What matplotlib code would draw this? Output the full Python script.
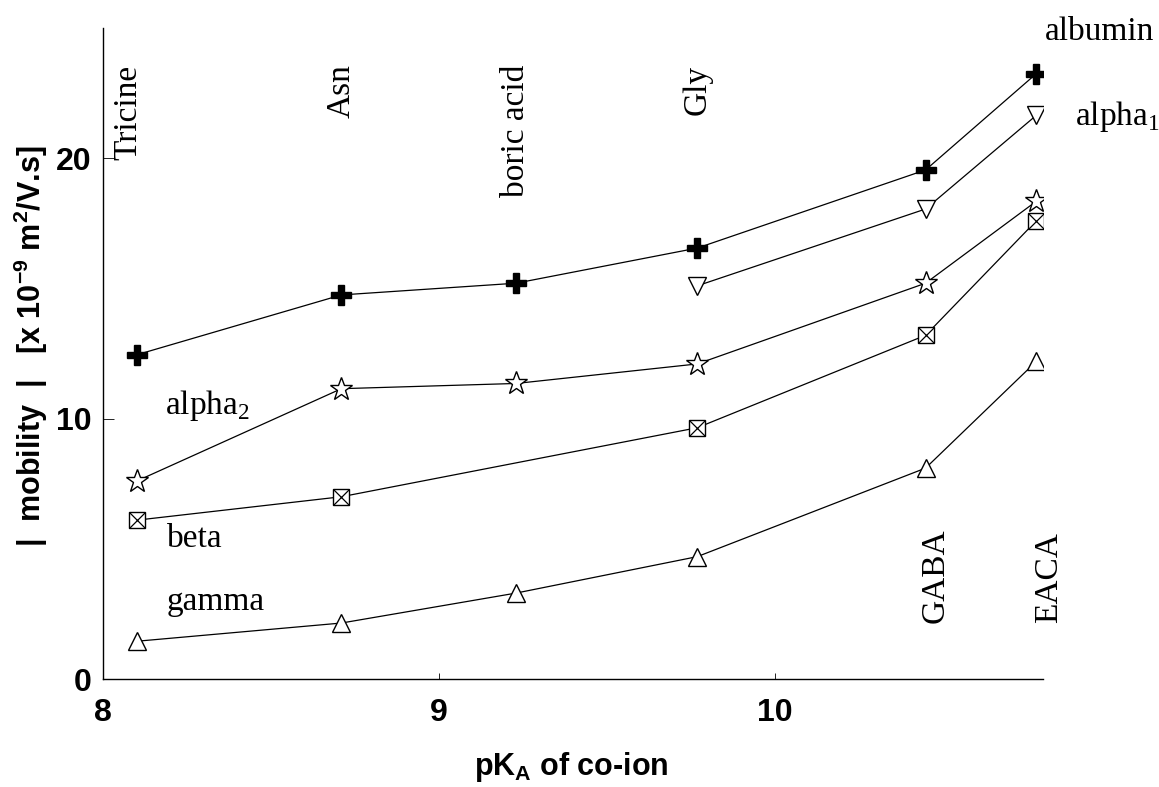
import numpy as np
import matplotlib
matplotlib.use("Agg")
import matplotlib.pyplot as plt

plt.rcParams['font.family'] = ['Liberation Sans', 'DejaVu Sans']
plt.rcParams['mathtext.fontset'] = 'custom'
plt.rcParams['mathtext.rm'] = 'Liberation Serif'
plt.rcParams['mathtext.bf'] = 'Liberation Sans:bold'
plt.rcParams['mathtext.default'] = 'bf'

################ DATA
# pKa of the co-ions
co_ions = ['Tricine', 'Asn', 'boric acid', 'Gly', 'GABA', 'EACA']
pka = [8.10, 8.71, 9.23, 9.77, 10.45, 10.78]

albumin = [12.45, 14.75, 15.2, 16.55, 19.55, 23.25]
alpha1 = [np.nan, np.nan, np.nan, 15.1, 18.05, 21.65]
alpha2 = [7.6, 11.15, 11.35, 12.1, 15.2, 18.35]
beta = [6.1, 7.0, np.nan, 9.65, 13.2, 17.6]
gamma = [1.45, 2.15, 3.3, 4.7, 8.1, 12.2]

################ FIGURE
fig = plt.figure(figsize=(11.59, 7.87), dpi=100)
ax = fig.add_axes([0.0889, 0.1372, 0.8111, 0.8272])

lw = 0.9
ax.plot(pka, albumin, color='black', lw=lw, marker='P', ms=15, mfc='black', mec='black')
ax.plot(pka, alpha1, color='black', lw=lw, marker='v', ms=13, mfc='white', mec='black', mew=1)
ax.plot(pka, alpha2, color='black', lw=lw, marker='*', ms=17, mfc='white', mec='black', mew=1)
# beta has no boric acid point, line goes straight from Asn to Gly
bx = [x for x, v in zip(pka, beta) if not np.isnan(v)]
by = [v for v in beta if not np.isnan(v)]
ax.plot(bx, by, color='black', lw=lw, marker='s', ms=12, mfc='white', mec='black', mew=1)
ax.plot(bx, by, ls='none', marker='x', ms=11, mec='black', mew=0.9)
ax.plot(pka, gamma, color='black', lw=lw, marker='^', ms=13, mfc='white', mec='black', mew=1)

ax.set_xlim(8, 10.8)
ax.set_ylim(0, 25)
ax.spines['top'].set_visible(False)
ax.spines['right'].set_visible(False)
ax.spines['left'].set_linewidth(1)
ax.spines['bottom'].set_linewidth(1)

ax.set_xticks([8, 9, 10])
ax.set_yticks([0, 10, 20])
ax.tick_params(axis='x', direction='in', length=4, width=0.6, pad=14, labelsize=23)
ax.tick_params(axis='y', direction='in', length=8, width=0.6, pad=8, labelsize=23)
for lab in ax.get_xticklabels() + ax.get_yticklabels():
    lab.set_fontweight('bold')

# co-ion names
serif = 'Liberation Serif'
for name, x in zip(co_ions[:4], [8.075, 8.709, 9.228, 9.77]):
    ax.text(x, 23.6, name, rotation=90, ha='center', va='top', fontsize=24, family=serif)
for name, x in zip(co_ions[4:], [10.48, 10.817]):
    ax.text(x, 2.15, name, rotation=90, ha='center', va='bottom', fontsize=24, family=serif)

# series names
ax.text(10.806, 24.85, 'albumin', ha='left', va='center', fontsize=24, family=serif)
ax.text(10.895, 21.6, r'alpha$_\mathrm{1}$', ha='left', va='center', fontsize=24, family=serif)
ax.text(8.185, 10.5, r'alpha$_\mathrm{2}$', ha='left', va='center', fontsize=24, family=serif)
ax.text(8.19, 5.4, 'beta', ha='left', va='center', fontsize=24, family=serif)
ax.text(8.19, 2.95, 'gamma', ha='left', va='center', fontsize=24, family=serif)

fig.text(31 / 1159, 1 - 346 / 787, r'|  mobility  |   [x 10$^{-9}$ m$^{2}$/V.s]',
         rotation=90, ha='center', va='center', fontsize=22, fontweight='bold')
fig.text(571 / 1159, 1 - 775 / 787, r'pK$_{A}$ of co-ion',
         ha='center', va='baseline', fontsize=22, fontweight='bold')

fig.savefig('out.png', dpi=100)
